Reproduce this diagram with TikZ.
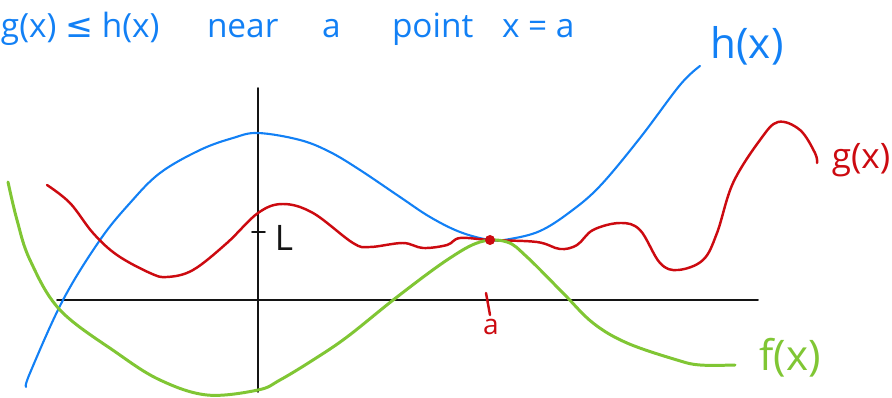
\documentclass[tikz,border=0pt]{standalone}
\usepackage{fontspec}
\setmainfont{Open Sans}
\newfontfamily\symfont{DejaVu Sans}

\definecolor{limblue}{RGB}{18,128,245}
\definecolor{limred}{RGB}{204,10,16}
\definecolor{limgreen}{RGB}{128,198,52}
\definecolor{limaxis}{RGB}{20,20,20}

\begin{document}
\begin{tikzpicture}[
  x=0.02cm,
  y=-0.02cm,
  every node/.style={inner sep=0pt, outer sep=0pt},
  limTitle/.style={font=\fontsize{19}{20}\selectfont, text=limblue, anchor=base west},
  limLabel/.style={font=\fontsize{24}{26}\selectfont},
  limAxis/.style={draw=limaxis, line width=1.1pt, line cap=round},
  limH/.style={draw=limblue, line width=1.2pt, line cap=round},
  limG/.style={draw=limred, line width=1.4pt, line cap=round},
  limF/.style={draw=limgreen, line width=1.7pt, line cap=round}
]

  \path[use as bounding box] (0,0) rectangle (892,398);

  % heading, word by word
  \node[limTitle] (tIneq) at (1,38) {g(x) {\symfont ≤} h(x)};
  \node[limTitle] (tNear) at (207,38) {near};
  \node[limTitle] (tA) at (322,38) {a};
  \node[limTitle] (tPoint) at (392,38) {point};
  \node[limTitle] (tEq) at (502,38) {x = a};

  % axes
  \draw[limAxis] (57,300) -- (758,300);
  \draw[limAxis] (258,88) -- (258,392);

  % h(x)
  \draw[limH] plot[smooth, tension=0.6] coordinates {
    (26,387) (30,373) (63,300) (100,240) (130,203) (160,173) (200,150)
    (233,138) (258,133) (300,140) (330,152) (360,170) (400,197) (430,217)
    (460,232) (490,240) (510,239) (540,231) (570,212) (600,186) (640,138)
    (680,85) (700,66)};

  % g(x)
  \draw[limG] plot[smooth, tension=0.6] coordinates {
    (47,185) (70,203) (93,233) (117,255) (150,273) (167,277) (193,270)
    (227,243) (258,213) (283,204) (313,213) (353,243) (370,247) (403,243)
    (423,248) (447,245) (460,238) (490,240) (537,242) (560,249) (577,245)
    (593,230) (620,223) (640,230) (660,263) (678,270) (703,260) (717,233)
    (733,183) (760,140) (778,122) (800,130) (815,153) (817,163)};

  % f(x)
  \draw[limF] plot[smooth, tension=0.6] coordinates {
    (8,182) (17,220) (30,260) (60,310) (117,353) (160,380) (207,395)
    (258,390) (280,380) (313,360) (347,337) (397,297) (447,260) (480,242)
    (507,242) (527,257) (563,293) (593,323) (627,343) (677,360) (700,365) (735,365)};

  % limit L and point a
  \draw[limAxis] (252,232) -- (265,232);
  \node[limLabel, text=limaxis, font=\fontsize{20}{22}\selectfont] (lblL) at (284,238) {L};
  \draw[limG] (486,293) -- (490,315);
  \node[limLabel, text=limred, font=\fontsize{16}{18}\selectfont] (lblA) at (491,327) {a};
  \fill[limred] (490,240) circle (5);

  % curve labels
  \node[limLabel, text=limblue] (lblH) at (747,46) {h(x)};
  \node[limLabel, text=limred, font=\fontsize{20}{22}\selectfont] (lblG) at (861,160) {g(x)};
  \node[limLabel, text=limgreen] (lblF) at (790,358) {f(x)};

\end{tikzpicture}
\end{document}
